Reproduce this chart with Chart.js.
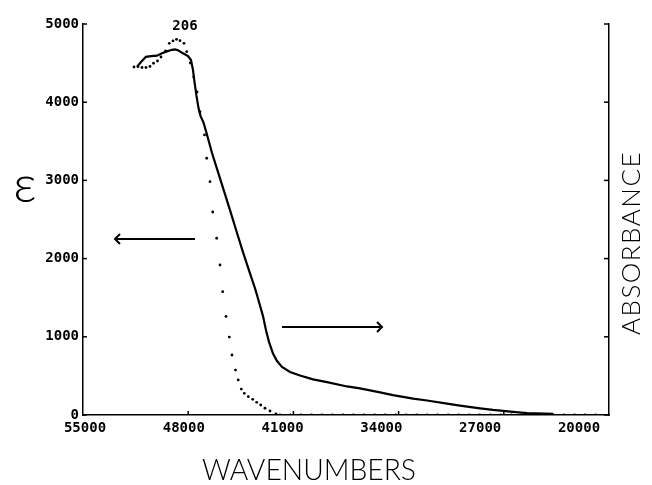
<!DOCTYPE html>
<html>
<head>
<meta charset="utf-8">
<script src="https://cdn.jsdelivr.net/npm/chart.js@4/dist/chart.umd.min.js"></script>
<style>
  html, body { margin: 0; padding: 0; background: #fff; }
  #wrap { width: 652px; height: 485px; }
</style>
</head>
<body>
<div id="wrap"><canvas id="c" width="652" height="485"></canvas></div>
<script>
// ---- Data ----
// Solid curve: absorbance (right axis) vs wavenumber
const solidWavenumber = [51400, 51140, 50810, 50475, 50076, 49743, 49411, 49078, 48878, 48679,
  48346, 48013, 47814, 47681, 47581, 47448, 47315, 47182, 46982, 46816,
  46616, 46416, 46104, 45684, 45219, 44773, 44334, 43888, 43522, 43289,
  43023, 42823, 42624, 42357, 42091, 41759, 41226, 40561, 39696, 38764,
  37433, 36568, 35238, 34373, 33042, 32110, 30779, 29914, 28584, 27719,
  26388, 25456, 23726];
const solidAbsorbance = [0.891, 0.903, 0.916, 0.918, 0.919, 0.925, 0.930, 0.934, 0.935, 0.933,
  0.925, 0.918, 0.908, 0.882, 0.852, 0.816, 0.785, 0.765, 0.748, 0.726,
  0.698, 0.670, 0.632, 0.581, 0.524, 0.468, 0.414, 0.362, 0.320, 0.289,
  0.253, 0.217, 0.187, 0.157, 0.138, 0.123, 0.110, 0.101, 0.091, 0.084,
  0.073, 0.068, 0.058, 0.051, 0.042, 0.037, 0.029, 0.024, 0.017, 0.013,
  0.008, 0.005, 0.003];

// Dotted curve: molar absorptivity epsilon (left axis) vs wavenumber
const dotWavenumber = [51606, 51340, 51074, 50808, 50542, 50309, 50043, 49810, 49510, 49258,
  49011, 48779, 48546, 48279, 48100, 47860, 47634, 47414, 47215, 46915,
  46769, 46549, 46370, 46104, 45884, 45704, 45485, 45265, 45086, 44853,
  44673, 44467, 44267, 44001, 43708, 43442, 43176, 42890, 42557, 42158,
  41892, 41200, 40500, 39800, 39100, 38400, 37700, 37000, 36300, 35600,
  34900, 34200, 33500, 32800, 32100, 31400, 30700, 30000, 29300, 28600,
  27900, 27200, 26500, 25800, 25100, 24400, 23700, 23000, 22300, 21600, 20900];
const dotEpsilon = [4450, 4454, 4444, 4444, 4457, 4498, 4527, 4578, 4655, 4753,
  4783, 4804, 4787, 4753, 4646, 4501, 4322, 4131, 3879, 3581,
  3283, 2984, 2596, 2260, 1918, 1577, 1260, 997, 767, 575,
  448, 332, 277, 234, 201, 162, 128, 86, 51, 13,
  0, 0, 0, 0, 0, 0, 0, 0, 0, 0,
  0, 0, 0, 0, 0, 0, 0, 0, 0, 0,
  0, 0, 0, 0, 0, 0, 0, 0, 0, 0, 0];

// Axes
const xTickValues = [55000, 48000, 41000, 34000, 27000, 20000];
const xTickLabels = ['55000', '48000', '41000', '34000', '27000', '20000'];
const yTickValues = [0, 1000, 2000, 3000, 4000, 5000];
const yTickLabels = ['0', '1000', '2000', '3000', '4000', '5000'];
const y2TickValues = [0, 0.2, 0.4, 0.6, 0.8, 1.0];

// Annotations (data coordinates)
const peakLabel = { text: '206', x: 48213, y: 4975 };
const leftArrow = { x1: 47548, x2: 52871, y: 2251 };   // points to epsilon axis
const rightArrow = { x1: 41758, x2: 35104, y: 1125 };  // points to absorbance axis

// ---- Build datasets ----
const solidPoints = solidWavenumber.map((w, i) => ({ x: w, y: solidAbsorbance[i] }));
const dotPoints = dotWavenumber.map((w, i) => ({ x: w, y: dotEpsilon[i] }));

const MONO = "'DejaVu Sans Mono', 'Liberation Mono', monospace";

const annotPlugin = {
  id: 'annot',
  afterDraw(chart) {
    const { ctx } = chart;
    const x = chart.scales.x, y = chart.scales.y, y2 = chart.scales.y2;
    ctx.save();
    ctx.strokeStyle = '#000';
    ctx.fillStyle = '#000';
    ctx.lineWidth = 1.5;
    const line = (a, b, c, d) => { ctx.beginPath(); ctx.moveTo(a, b); ctx.lineTo(c, d); ctx.stroke(); };

    // inward tick marks
    const bottom = chart.chartArea.bottom;
    xTickValues.slice(1, -1).forEach(v => {
      const px = x.getPixelForValue(v);
      line(px, bottom, px, bottom - 4);
    });
    yTickValues.forEach(v => {
      const py = y.getPixelForValue(v);
      line(y.right, py, y.right + 4, py);
    });
    y2TickValues.forEach(v => {
      const py = y2.getPixelForValue(v);
      line(y2.left, py, y2.left - 5, py);
    });

    // arrows
    const arrow = (a) => {
      const xs = x.getPixelForValue(a.x1), xe = x.getPixelForValue(a.x2), py = y.getPixelForValue(a.y);
      ctx.lineWidth = 2;
      line(xs, py, xe, py);
      const dir = xe > xs ? 1 : -1;
      ctx.beginPath();
      ctx.moveTo(xe - dir * 5, py - 5);
      ctx.lineTo(xe, py);
      ctx.lineTo(xe - dir * 5, py + 5);
      ctx.stroke();
    };
    arrow(leftArrow);
    arrow(rightArrow);

    // peak label
    ctx.font = 'bold 14px ' + MONO;
    ctx.textAlign = 'center';
    ctx.textBaseline = 'middle';
    ctx.fillText(peakLabel.text, x.getPixelForValue(peakLabel.x), y.getPixelForValue(peakLabel.y));

    // epsilon axis title
    ctx.font = "300 52px Lato, 'DejaVu Sans', sans-serif";
    ctx.textAlign = 'center';
    ctx.textBaseline = 'alphabetic';
    ctx.fillText('ε', 25, 202);

    // x axis title
    ctx.font = "300 30px Lato, 'Liberation Sans', sans-serif";
    ctx.textAlign = 'center';
    ctx.textBaseline = 'alphabetic';
    ctx.fillText('WAVENUMBERS', 309, 480, 214);

    // right axis title
    ctx.save();
    ctx.translate(640, 243);
    ctx.rotate(-Math.PI / 2);
    ctx.font = "300 26px Lato, 'Liberation Sans', sans-serif";
    try { ctx.letterSpacing = '1.5px'; } catch (e) {}
    ctx.textAlign = 'center';
    ctx.textBaseline = 'alphabetic';
    ctx.fillText('ABSORBANCE', 0, 0, 184);
    ctx.restore();

    ctx.restore();
  }
};

new Chart(document.getElementById('c'), {
  type: 'scatter',
  data: {
    datasets: [
      {
        type: 'line',
        label: 'Absorbance',
        data: solidPoints,
        xAxisID: 'x',
        yAxisID: 'y2',
        borderColor: '#000',
        borderWidth: 2.2,
        pointRadius: 0,
        tension: 0,
        fill: false
      },
      {
        type: 'scatter',
        label: 'ε',
        data: dotPoints,
        xAxisID: 'x',
        yAxisID: 'y',
        showLine: false,
        pointRadius: 1.4,
        pointBorderWidth: 0,
        pointBackgroundColor: '#000',
        borderColor: '#000'
      }
    ]
  },
  options: {
    responsive: false,
    animation: false,
    devicePixelRatio: 1,
    layout: { padding: { left: 0, right: 0, top: 24, bottom: 0 } },
    plugins: { legend: { display: false }, tooltip: { enabled: false }, title: { display: false } },
    scales: {
      x: {
        type: 'linear',
        position: 'bottom',
        weight: 0,
        reverse: true,
        min: 20000,
        max: 55000,
        afterBuildTicks: (s) => { s.ticks = xTickValues.map(v => ({ value: v })); },
        afterFit: (s) => { s.height = 0; },
        grid: { drawOnChartArea: false, drawTicks: false },
        border: { display: true, color: '#000', width: 1.5 },
        ticks: { display: false }
      },
      // label row of the wavenumber axis (the plotter's labels sit on a slightly tighter spacing than its tick marks)
      xl: {
        type: 'linear',
        position: 'bottom',
        weight: 1,
        reverse: true,
        min: 17874,
        max: 55142,
        afterBuildTicks: (s) => { s.ticks = xTickValues.map(v => ({ value: v })); },
        afterFit: (s) => { s.height = 70; },
        grid: { display: false, drawOnChartArea: false, drawTicks: false },
        border: { display: false },
        ticks: {
          color: '#000',
          font: { family: MONO, size: 14, weight: 'bold' },
          padding: 5,
          maxRotation: 0,
          autoSkip: false,
          callback: (v) => { const i = xTickValues.indexOf(v); return i >= 0 ? xTickLabels[i] : ''; }
        }
      },
      y: {
        type: 'linear',
        position: 'left',
        min: 0,
        max: 5000,
        afterBuildTicks: (s) => { s.ticks = yTickValues.map(v => ({ value: v })); },
        afterFit: (s) => { s.width = 83; },
        grid: { drawOnChartArea: false, drawTicks: false },
        border: { display: true, color: '#000', width: 1.5 },
        ticks: {
          color: '#000',
          font: { family: MONO, size: 14, weight: 'bold' },
          padding: 4,
          callback: (v) => { const i = yTickValues.indexOf(v); return i >= 0 ? yTickLabels[i] : ''; }
        }
      },
      y2: {
        type: 'linear',
        position: 'right',
        min: 0,
        max: 1,
        afterBuildTicks: (s) => { s.ticks = y2TickValues.map(v => ({ value: v })); },
        afterFit: (s) => { s.width = 43; },
        grid: { drawOnChartArea: false, drawTicks: false },
        border: { display: true, color: '#000', width: 1.5 },
        ticks: { display: false }
      }
    }
  },
  plugins: [annotPlugin]
});
</script>
</body>
</html>
